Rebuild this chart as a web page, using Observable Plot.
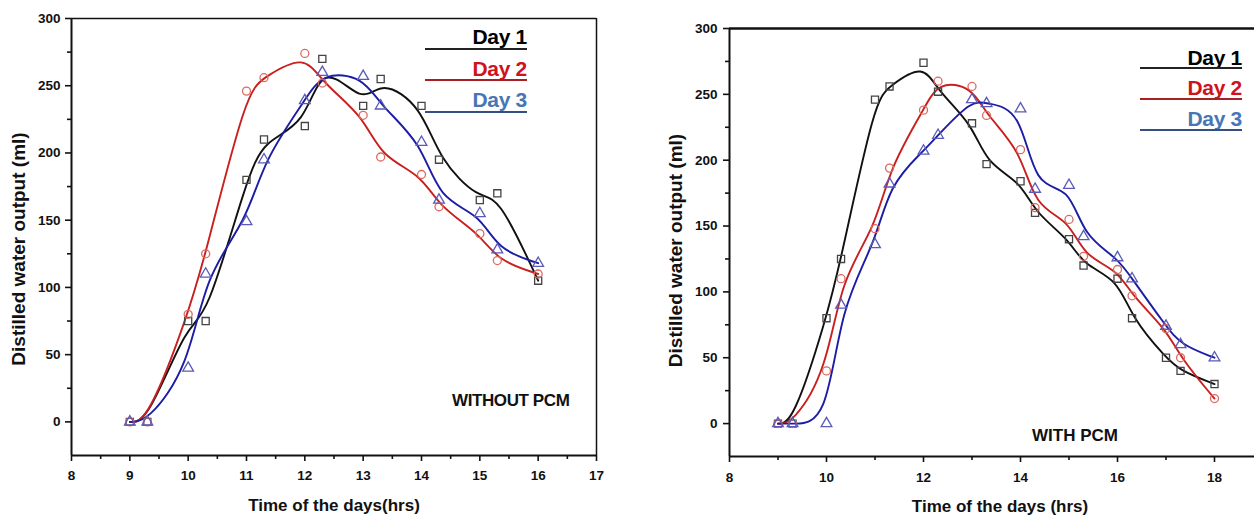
<!DOCTYPE html>
<html><head><meta charset="utf-8">
<script src="https://cdn.jsdelivr.net/npm/d3@7"></script>
<script src="https://cdn.jsdelivr.net/npm/@observablehq/plot@0.6"></script>
<style>
body{margin:0;background:#fff;width:1254px;height:515px;overflow:hidden;position:relative;font-family:"Liberation Sans",Arial,sans-serif;}
#left{position:absolute;left:0;top:0;}
#right{position:absolute;left:630px;top:0;}
#left svg text, #right svg text{font-weight:bold;}
.lg{position:absolute;font-weight:bold;font-size:21px;line-height:21px;text-align:right;width:107px;letter-spacing:-0.3px;}
.lgline{position:absolute;height:2px;width:102px;}
.note{position:absolute;font-weight:bold;font-size:17px;line-height:17px;white-space:nowrap;color:#111;}
</style></head><body>
<div id="left"></div><div id="right"></div>
<script>
// ---------- data ----------
const days = ["Day 1", "Day 2", "Day 3"];

// WITHOUT PCM panel
const timeWithout = [9, 9.3, 10, 10.3, 11, 11.3, 12, 12.3, 13, 13.3, 14, 14.3, 15, 15.3, 16];
const withoutDay1 = [0, 0, 75, 75, 180, 210, 220, 270, 235, 255, 235, 195, 165, 170, 105];
const withoutDay2 = [0, 0, 80, 125, 246, 256, 274, 252, 228, 197, 184, 160, 140, 120, 110];
const withoutDay3 = [0, 0, 40, 110, 149, 195, 239, 260, 257, 235, 208, 165, 155, 128, 118];

// WITH PCM panel
const timeWith = [9, 9.3, 10, 10.3, 11, 11.3, 12, 12.3, 13, 13.3, 14, 14.3, 15, 15.3, 16, 16.3, 17, 17.3, 18];
const withDay1 = [0, 0, 80, 125, 246, 256, 274, 252, 228, 197, 184, 160, 140, 120, 110, 80, 50, 40, 30];
const withDay2 = [0, 0, 40, 110, 148, 194, 238, 260, 256, 234, 208, 164, 155, 127, 117, 97, 72, 50, 19];
const withDay3 = [0, 0, 0, 90, 136, 182, 207, 219, 246, 243, 239, 178, 181, 142, 126, 110, 74, 60, 50];

const yTicks = [0, 50, 100, 150, 200, 250, 300];
const yMinorTicks = [25, 75, 125, 175, 225, 275];
const xTicksWithout = [8, 9, 10, 11, 12, 13, 14, 15, 16, 17];
const xMinorWithout = [8.5, 9.5, 10.5, 11.5, 12.5, 13.5, 14.5, 15.5, 16.5];
const xTicksWith = [8, 10, 12, 14, 16, 18];
const xMinorWith = [9, 11, 13, 15, 17];

const panelNotes = ["WITHOUT PCM", "WITH PCM"];
const yTitle = "Distilled water output (ml)";
const xTitles = ["Time of the days(hrs)", "Time of the days (hrs)"];

// ---------- styles ----------
const lineColors = ["#111111", "#c8201e", "#1c1ca4"];
const markerColors = ["#444444", "#dc6a62", "#5a5ab8"];
const symbols = ["square", "circle", "triangle"];
const legendTextColors = ["#000000", "#d0121b", "#4677b4"];
const legendLineColors = ["#222222", "#a82024", "#34507e"];

function table(times, series) {
  const rows = [];
  series.forEach((vals, i) => vals.forEach((v, j) => rows.push({day: days[i], t: times[j], v})));
  return rows;
}

function panel(o) {
  const data = table(o.times, o.series);
  const marks = [
    Plot.ruleY([300], {stroke: "#111", strokeWidth: o.topWidth}),
    Plot.ruleY([-25], {stroke: "#111", strokeWidth: 2}),
    Plot.ruleX([8], {stroke: "#111", strokeWidth: 2}),
  ];
  if (o.rightRule != null) marks.push(Plot.ruleX([o.rightRule], {stroke: "#111", strokeWidth: 1.5}));
  days.forEach((d, i) => {
    const sub = data.filter(r => r.day === d);
    marks.push(Plot.line(sub, {x: "t", y: "v", curve: "basis", stroke: lineColors[i], strokeWidth: 1.9}));
  });
  days.forEach((d, i) => {
    const sub = data.filter(r => r.day === d);
    marks.push(Plot.dot(sub, {x: "t", y: "v", symbol: symbols[i], r: 4, stroke: markerColors[i], fill: "none", strokeWidth: 1.3}));
  });
  marks.push(
    Plot.axisX({ticks: o.xTicks, tickSize: 6, tickPadding: o.xPad, strokeWidth: 1.6, label: null, fontSize: 13.5, fontWeight: "bold", tickFormat: d => String(d)}),
    Plot.axisX({ticks: o.xMinor, tickSize: 4, strokeWidth: 1.6, label: null, tickFormat: () => ""}),
    Plot.axisY({ticks: yTicks, tickSize: 6, tickPadding: o.yPad, strokeWidth: 1.6, label: null, fontSize: 13.5, fontWeight: "bold"}),
    Plot.axisY({ticks: yMinorTicks, tickSize: 4, strokeWidth: 1.6, label: null, tickFormat: () => ""}),
    Plot.text([yTitle], {frameAnchor: "left", textAnchor: "middle", lineAnchor: "middle", rotate: -90, dx: o.yTitleDx, dy: o.yTitleDy, fontSize: 19, fontWeight: "bold", fill: "#111"}),
    Plot.text([o.xTitle], {frameAnchor: "bottom", textAnchor: "middle", lineAnchor: "middle", dx: o.xTitleDx, dy: 50, fontSize: 17, fontWeight: "bold", fill: "#111"})
  );
  return Plot.plot({
    width: o.width, height: 515,
    marginLeft: o.marginLeft, marginRight: o.marginRight, marginTop: o.marginTop, marginBottom: o.marginBottom,
    x: o.xRange ? {domain: o.xDomain, range: o.xRange} : {domain: o.xDomain},
    y: {domain: [-25, 300]},
    style: {fontFamily: "'Liberation Sans', Arial, sans-serif", fontSize: "13.5px", fontWeight: "bold", background: "transparent", color: "#111"},
    marks
  });
}

document.getElementById("left").append(panel({
  times: timeWithout, series: [withoutDay1, withoutDay2, withoutDay3],
  width: 620, marginLeft: 71, marginRight: 24, marginTop: 18, marginBottom: 60,
  xDomain: [8, 17], xTicks: xTicksWithout, xMinor: xMinorWithout, rightRule: 17, topWidth: 1.5,
  xPad: 9, yPad: 5, yTitleDx: -53, yTitleDy: 12, xTitle: xTitles[0], xTitleDx: 0
}));

document.getElementById("right").append(panel({
  times: timeWith, series: [withDay1, withDay2, withDay3],
  width: 624, marginLeft: 99, marginRight: 0, marginTop: 28, marginBottom: 59,
  xDomain: [8, 19], xRange: [99, 632.5], xTicks: xTicksWith, xMinor: xMinorWith, rightRule: null, topWidth: 2.5,
  xPad: 10, yPad: 6, yTitleDx: -54, yTitleDy: 8, xTitle: xTitles[1], xTitleDx: 8
}));

// ---------- legends & notes (HTML) ----------
function addLegend(left, textTops, lineTops) {
  days.forEach((d, i) => {
    const t = document.createElement("div");
    t.className = "lg";
    t.textContent = d;
    t.style.left = left + "px";
    t.style.top = textTops[i] + "px";
    t.style.color = legendTextColors[i];
    document.body.append(t);
    const l = document.createElement("div");
    l.className = "lgline";
    l.style.left = (left + 5) + "px";
    l.style.top = lineTops[i] + "px";
    l.style.background = legendLineColors[i];
    document.body.append(l);
  });
}
addLegend(420, [26, 58, 89], [48, 79, 111]);
addLegend(1135, [47, 77, 108], [67, 98, 129]);

function addNote(text, left, top, spacing) {
  const n = document.createElement("div");
  n.className = "note";
  n.textContent = text;
  n.style.left = left + "px";
  n.style.top = top + "px";
  n.style.letterSpacing = spacing + "px";
  document.body.append(n);
}
addNote(panelNotes[0], 452, 392, -0.4);
addNote(panelNotes[1], 1032, 427, 0);
</script>
</body></html>
